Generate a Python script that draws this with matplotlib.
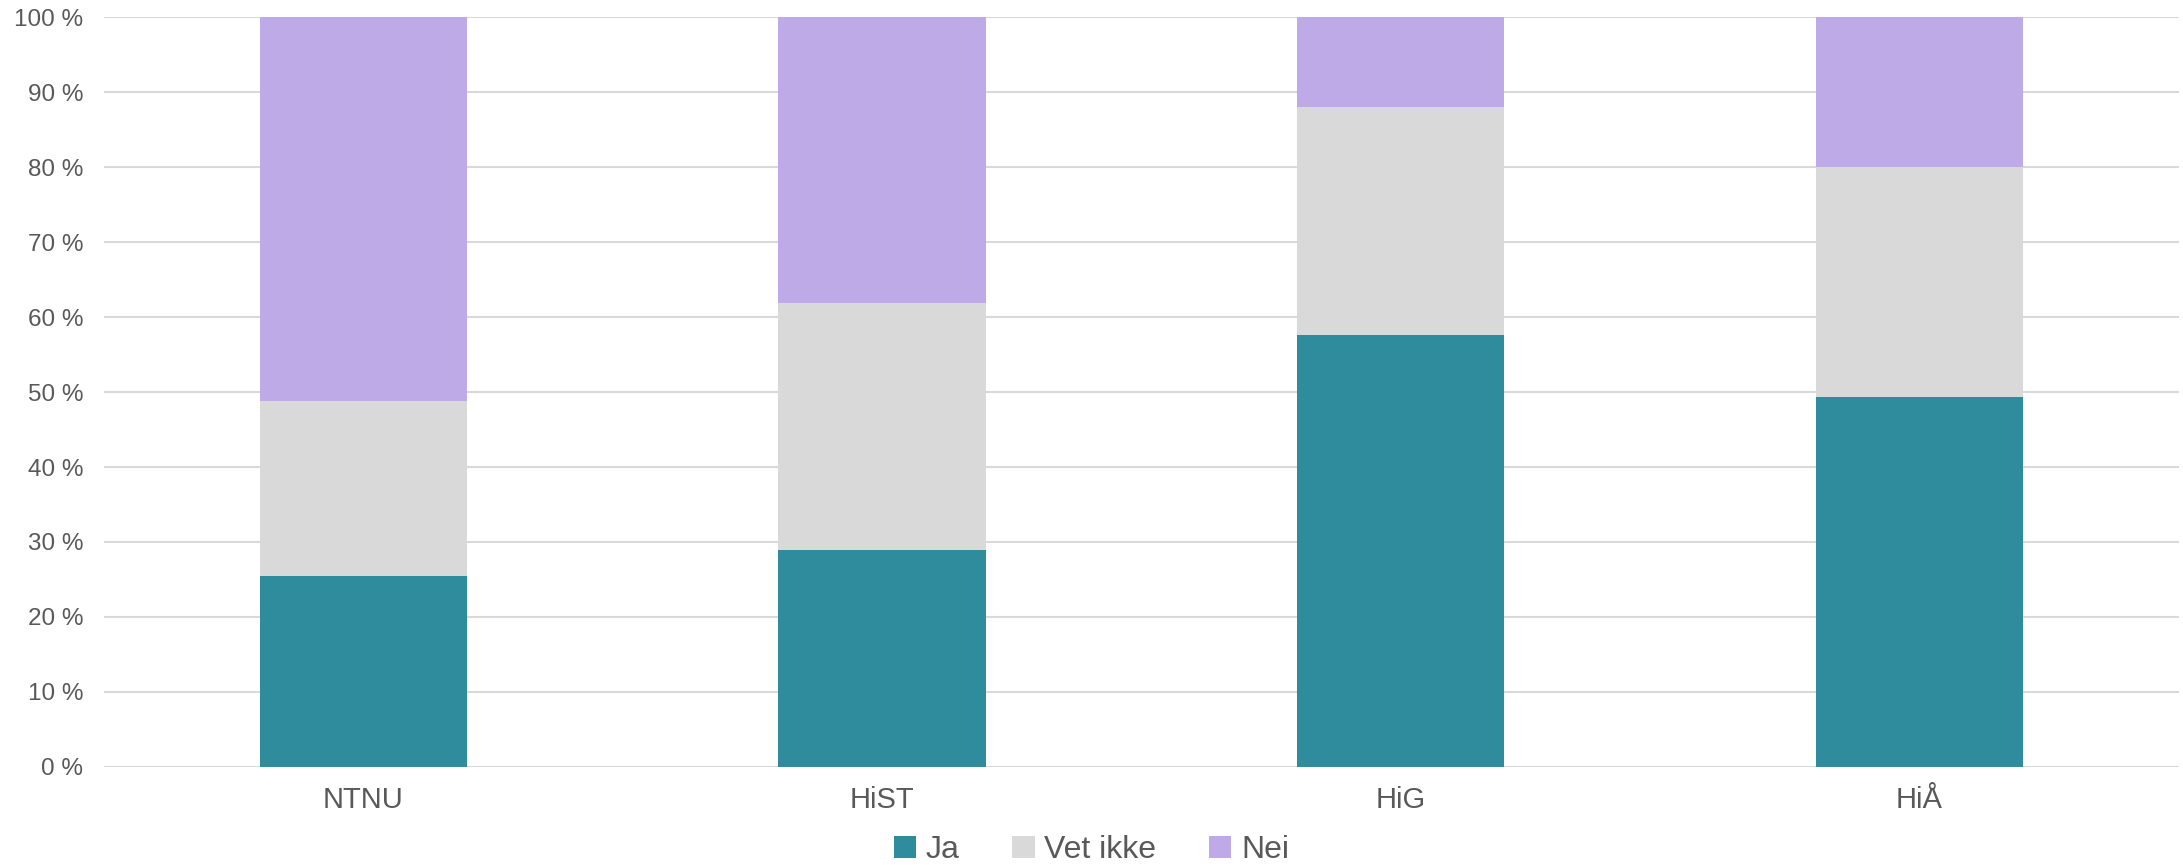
import matplotlib.pyplot as plt
import numpy as np

plt.rcParams['font.family'] = ['Liberation Sans', 'DejaVu Sans']

categories = ['NTNU', 'HiST', 'HiG', 'HiÅ']
ja = [25.5, 28.9, 57.6, 49.4]
vet_ikke = [23.3, 33.0, 30.4, 30.7]
nei = [51.2, 38.1, 12.0, 19.9]
y_ticks = [0, 10, 20, 30, 40, 50, 60, 70, 80, 90, 100]

text_col = '#595959'
grid_col = '#d9d9d9'

fig = plt.figure(figsize=(21.83, 8.65), dpi=100)
ax = fig.add_axes([0.0476, 0.1136, 0.9504, 0.8662])

x = np.arange(len(categories))
w = 0.4
bottom = np.zeros(len(categories))
series = [('Ja', ja, '#2e8c9d'), ('Vet ikke', vet_ikke, '#d9d9d9'), ('Nei', nei, '#bfaae8')]
for name, vals, col in series:
    ax.bar(x, vals, w, bottom=bottom, color=col, label=name, zorder=3)
    bottom += np.array(vals)

ax.set_xlim(-0.5, len(categories) - 0.5)
ax.set_ylim(0, 100)
ax.set_yticks(y_ticks)
ax.set_yticklabels(['{} %'.format(t) for t in y_ticks])
ax.set_xticks(x)
ax.set_xticklabels(categories)
ax.yaxis.grid(True, color=grid_col, linewidth=1.5, zorder=0)
ax.tick_params(axis='y', length=0, pad=15, labelsize=17.5, labelcolor=text_col)
ax.tick_params(axis='x', length=0, pad=14, labelsize=21, labelcolor=text_col)
for s in ax.spines.values():
    s.set_visible(False)

leg = fig.legend(loc='center', bbox_to_anchor=(0.5, 0.017), ncol=3, frameon=False,
                 fontsize=23, handlelength=0.7, handleheight=0.7, handletextpad=0.3,
                 columnspacing=1.65)
for t in leg.get_texts():
    t.set_color(text_col)

plt.savefig('out.png', dpi=100)
